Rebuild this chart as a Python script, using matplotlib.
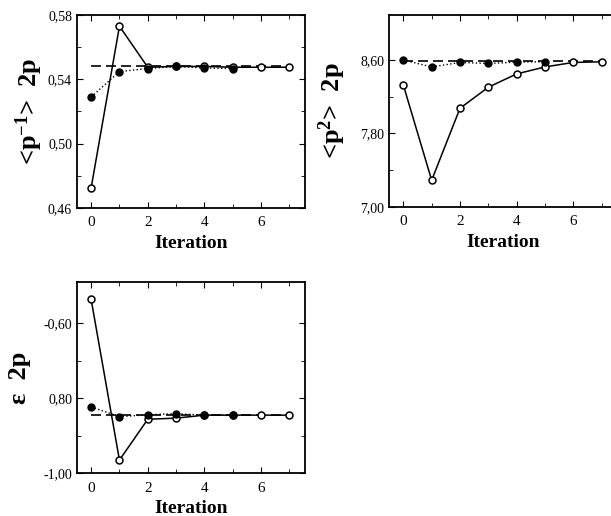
import numpy as np
import matplotlib.pyplot as plt
from matplotlib.ticker import FixedLocator

plt.rcParams['font.family'] = ['Liberation Serif', 'DejaVu Serif']
plt.rcParams['mathtext.fontset'] = 'custom'
plt.rcParams['mathtext.rm'] = 'Liberation Serif'
plt.rcParams['mathtext.it'] = 'Liberation Serif:italic'
plt.rcParams['mathtext.bf'] = 'Liberation Serif:bold'

# Datos
it = [0, 1, 2, 3, 4, 5, 6, 7]
it_llenos = [0, 1, 2, 3, 4, 5]

# <p^-1> 2p
p1_abiertos = [0.4725, 0.573, 0.5475, 0.548, 0.548, 0.5475, 0.5475, 0.5475]
p1_llenos = [0.529, 0.5448, 0.5467, 0.548, 0.547, 0.5467]
p1_ref = 0.548

# <p^2> 2p
p2_abiertos = [8.326, 7.29, 8.074, 8.303, 8.448, 8.524, 8.573, 8.58]
p2_llenos = [8.60, 8.524, 8.573, 8.562, 8.577, 8.58]
p2_ref = 8.59

# epsilon 2p
e_abiertos = [-0.536, -0.965, -0.856, -0.853, -0.845, -0.845, -0.845, -0.845]
e_llenos = [-0.823, -0.849, -0.844, -0.841, -0.845, -0.845]
e_ref = -0.845

paneles = [
    dict(pos=[0.126, 0.597, 0.373, 0.374], ab=p1_abiertos, ll=p1_llenos, ref=p1_ref,
         ylim=(0.46, 0.58), yt=[0.46, 0.50, 0.54, 0.58],
         ytl=['0,46', '0,50', '0,54', '0,58'], ylab=r'<p$^{\mathbf{-1}}$>  2p',
         lx=-0.14),
    dict(pos=[0.637, 0.599, 0.373, 0.372], ab=p2_abiertos, ll=p2_llenos, ref=p2_ref,
         ylim=(7.0, 9.09), yt=[7.0, 7.8, 8.6],
         ytl=['7,00', '7,80', '8,60'], ylab=r'<p$^{\mathbf{2}}$>  2p',
         lx=-0.18),
    dict(pos=[0.126, 0.083, 0.373, 0.370], ab=e_abiertos, ll=e_llenos, ref=e_ref,
         ylim=(-1.0, -0.49), yt=[-1.0, -0.8, -0.6],
         ytl=['-1,00', '0,80', '-0,60'], ylab='\u03b5  2p',
         lx=-0.20),
]

fig = plt.figure(figsize=(6.11, 5.16), dpi=100)

for p in paneles:
    ax = fig.add_axes(p['pos'])
    ax.plot([0, 7], [p['ref'], p['ref']], color='black', lw=1.2, ls=(0, (6, 3)))
    ax.plot(it, p['ab'], color='black', lw=1.1, marker='o', ms=5,
            mfc='white', mec='black', mew=1.1)
    ax.plot(it_llenos, p['ll'], color='black', lw=1.0, ls=':', marker='o', ms=5,
            mfc='black', mec='black')
    ax.set_xlim(-0.5, 7.55)
    ax.set_ylim(*p['ylim'])
    ax.set_xticks([0, 2, 4, 6])
    ax.xaxis.set_minor_locator(FixedLocator([1, 3, 5, 7]))
    ax.set_yticks(p['yt'])
    ax.set_yticklabels(p['ytl'])
    yt = p['yt']
    ax.yaxis.set_minor_locator(FixedLocator(
        [(yt[i] + yt[i + 1]) / 2 for i in range(len(yt) - 1)]))
    ax.tick_params(which='both', direction='in', top=True, right=True,
                   labelsize=10)
    ax.tick_params(which='major', length=4)
    ax.tick_params(which='minor', length=3)
    ax.tick_params(axis='x', pad=6, labelsize=11)
    for s in ax.spines.values():
        s.set_linewidth(1.3)
    ax.set_xlabel('Iteration', fontsize=14, fontweight='bold')
    ax.set_ylabel(p['ylab'], fontsize=19, fontweight='bold')
    ax.yaxis.set_label_coords(p['lx'], 0.5)

plt.savefig('out.png', dpi=100)
